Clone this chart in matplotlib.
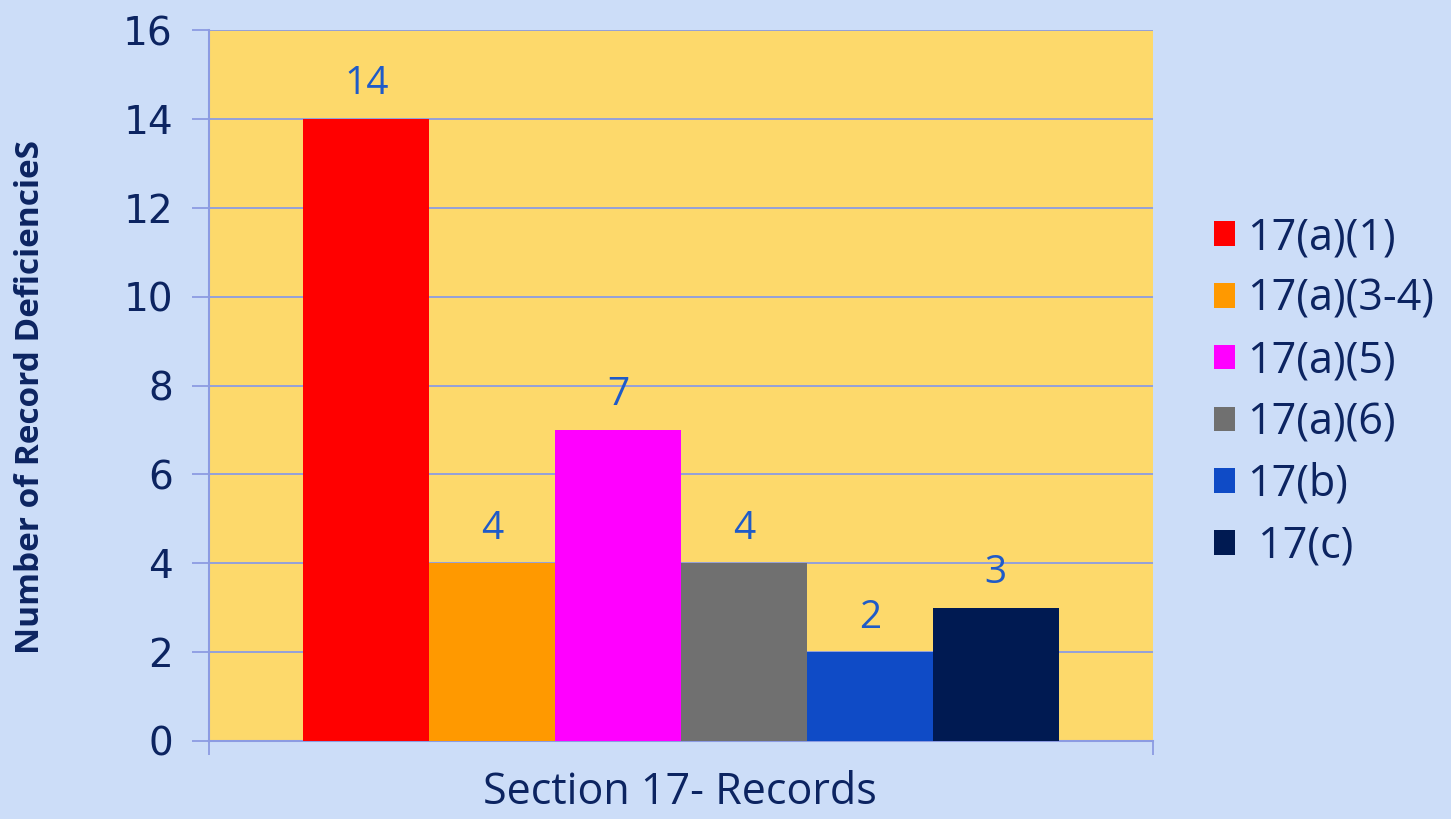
import numpy as np
import matplotlib
matplotlib.use('agg')
import matplotlib.pyplot as plt

plt.rcParams['font.family'] = ['Open Sans', 'DejaVu Sans']

# data
categories = ["17(a)(1)", "17(a)(3-4)", "17(a)(5)", "17(a)(6)", "17(b)", " 17(c)"]
counts = [14, 4, 7, 4, 2, 3]
colors = ["#FF0000", "#FF9900", "#FF00FF", "#707070", "#0F4BC6", "#001A52"]
yticks = [0, 2, 4, 6, 8, 10, 12, 14, 16]

bg = "#CCDDF8"
plot_bg = "#FDD96B"
line_col = "#8C9BE2"
navy = "#0C2461"
val_col = "#1F5BC8"

fig = plt.figure(figsize=(14.51, 8.19), dpi=100, facecolor=bg)
ax = fig.add_axes([209/1451, 1-741/819, (1153-209)/1451, (741-30)/819])
ax.set_facecolor(plot_bg)

n = len(counts)
width = 0.8 / n
xs = -0.4 + width/2 + np.arange(n)*width
for x, v, c, lab in zip(xs, counts, colors, categories):
    ax.bar(x, v, width=width, color=c, label=lab, zorder=3)
    ax.text(x, v + 0.35, str(v), ha='center', va='bottom', fontsize=28,
            color=val_col, zorder=4)

ax.set_xlim(-0.5, 0.5)
ax.set_ylim(0, 16)
ax.set_yticks(yticks)
ax.yaxis.grid(True, color=line_col, linewidth=1.3, zorder=1)
ax.set_axisbelow(True)
ax.tick_params(axis='y', direction='out', length=12, width=1.3, color=line_col,
               labelsize=28, labelcolor=navy, pad=14)
for lbl in ax.get_yticklabels():
    lbl.set_family('DejaVu Sans')
ax.set_xticks([-0.5, 0.5])
ax.set_xticklabels(['', ''])
ax.tick_params(axis='x', direction='out', length=10, width=1.3, color=line_col)
for s in ['top', 'right']:
    ax.spines[s].set_visible(False)
for s in ['left', 'bottom']:
    ax.spines[s].set_color(line_col)
    ax.spines[s].set_linewidth(1.5)

# x label sits right at the bottom edge, as in the original
fig.text(680/1451, 1-804/819, "Section 17- Records", ha='center', va='baseline',
         fontsize=31, color=navy)
fig.text(0.021, 1-397/819, "Number of Record DeficiencieS", rotation=90,
         ha='center', va='center', fontsize=24, fontweight='bold', color=navy)

leg = fig.legend(loc='upper left', bbox_to_anchor=(1192/1451, 1-194/819),
                 frameon=False, fontsize=31, labelcolor=navy,
                 handlelength=0.5, handleheight=0.5, handletextpad=0.28,
                 labelspacing=0.4, borderpad=0)

fig.savefig("out.png", dpi=100, facecolor=bg)
